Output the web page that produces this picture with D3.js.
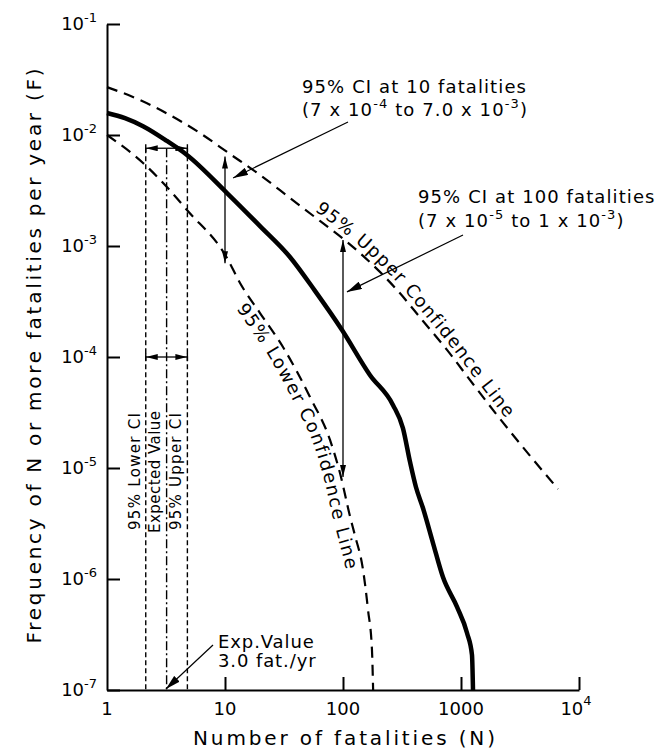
<!DOCTYPE html>
<html><head><meta charset="utf-8">
<script src="https://cdn.jsdelivr.net/npm/d3@7"></script>
<style>body{margin:0;background:#fff}svg{display:block}text{font-family:"DejaVu Sans",sans-serif;fill:#000}</style>
</head><body><svg id="c" width="671" height="750"></svg>
<script>
// ---- data ----
const expectedN = [1, 1.42, 2.02, 3.22, 4.76, 10.4, 19.8, 35.5, 57.9, 98.1, 169, 265, 322, 370, 415, 476, 579, 703, 925, 1125, 1239, 1264];
const expectedF = [1.58e-2, 1.42e-2, 1.20e-2, 8.83e-3, 6.61e-3, 3.0e-3, 1.51e-3, 7.96e-4, 3.94e-4, 1.75e-4, 6.89e-5, 3.70e-5, 2.29e-5, 1.13e-5, 6.74e-6, 4.36e-6, 2.11e-6, 1.04e-6, 5.6e-7, 3.26e-7, 2.07e-7, 1e-7];
const upperN = [1, 1.90, 3.42, 6.14, 11.0, 19.8, 35.5, 63.8, 108, 179, 287, 476, 761, 1264, 2019, 3623, 6637];
const upperF = [2.70e-2, 2.07e-2, 1.51e-2, 1.04e-2, 6.75e-3, 4.37e-3, 2.71e-3, 1.68e-3, 1.09e-3, 6.75e-4, 4.02e-4, 2.11e-4, 1.16e-4, 5.71e-5, 3.0e-5, 1.39e-5, 6.47e-6];
const lowerN = [1, 2.02, 3.22, 4.76, 10.4, 13.4, 19.8, 31.0, 52.5, 77.6, 94.3, 115, 126, 148, 163, 176, 180];
const lowerF = [1.0e-2, 5.6e-3, 3.4e-3, 2.11e-3, 7.8e-4, 4.64e-4, 2.49e-4, 1.23e-4, 4.36e-5, 1.79e-5, 9.0e-6, 3.62e-6, 2.49e-6, 1.2e-6, 5.26e-7, 2.29e-7, 1e-7];
const ciN = [2.13, 3.2, 4.8];          // 95% lower CI, expected value, 95% upper CI (fatalities/yr)
const ciBarF = [7.6e-3, 1e-4];         // levels of the horizontal CI bars
const ci10 = {n: 10, lo: 7e-4, hi: 6.4e-3};
const ci100 = {n: 100, lo: 8.3e-6, hi: 1.13e-3};
const xTicks = [1, 10, 100, 1000, 1e4];
const xTickBase = ["1", "10", "100", "1000", "10"];
const xTickSup = ["", "", "", "", "4"];
const yTicks = [1e-7, 1e-6, 1e-5, 1e-4, 1e-3, 1e-2, 1e-1];
const yTickExp = ["-7", "-6", "-5", "-4", "-3", "-2", "-1"];

// ---- chart ----
const svg = d3.select("#c");
const x = d3.scaleLog().domain([1, 1e4]).range([107, 579]);
const y = d3.scaleLog().domain([1e-7, 1e-1]).range([690, 24]);

const defs = svg.append("defs");
function marker(id, len, wid) {
  defs.append("marker").attr("id", id).attr("viewBox", `0 0 ${len} ${wid}`)
    .attr("refX", len).attr("refY", wid / 2).attr("markerWidth", len).attr("markerHeight", wid)
    .attr("markerUnits", "userSpaceOnUse").attr("orient", "auto-start-reverse")
    .append("path").attr("d", `M0,0L${len},${wid / 2}L0,${wid}z`).attr("fill", "#000");
}
marker("ah", 12, 6);
marker("ah2", 15, 8);

// axes
const yAxis = d3.axisLeft(y).tickValues(yTicks).tickSize(-13).tickSizeOuter(0).tickFormat("");
const xAxis = d3.axisBottom(x).tickValues(xTicks.slice(1)).tickSize(-13).tickSizeOuter(0).tickFormat("");
const gy = svg.append("g").attr("transform", "translate(107,0)").call(yAxis);
const gx = svg.append("g").attr("transform", "translate(0,690)").call(xAxis);
[gy, gx].forEach(g => { g.selectAll("path,line").attr("stroke", "#000").attr("stroke-width", 2); });

// y tick labels
yTicks.forEach((v, i) => {
  const t = svg.append("text").attr("x", 97).attr("y", y(v) + 6).attr("text-anchor", "end").attr("font-size", 18);
  t.append("tspan").text("10");
  t.append("tspan").attr("font-size", 13).attr("dy", -8).text(yTickExp[i]);
});
// x tick labels
xTicks.forEach((v, i) => {
  const t = svg.append("text").attr("x", x(v) + (xTickSup[i] ? -3 : 0)).attr("y", 715)
    .attr("text-anchor", "middle").attr("font-size", 18);
  t.append("tspan").text(xTickBase[i]);
  if (xTickSup[i]) t.append("tspan").attr("font-size", 13).attr("dy", -10).text(xTickSup[i]);
});

// axis titles
svg.append("text").attr("x", 344).attr("y", 745).attr("text-anchor", "middle").attr("font-size", 20)
  .attr("textLength", 302).attr("lengthAdjust", "spacing").text("Number of fatalities (N)");
svg.append("text").attr("transform", "translate(41,356) rotate(-90)").attr("text-anchor", "middle").attr("font-size", 20)
  .attr("textLength", 575).attr("lengthAdjust", "spacing").text("Frequency of N or more fatalities per year (F)");

// curves
const line = d3.line().x(d => x(d[0])).y(d => y(d[1])).curve(d3.curveMonotoneX);
const expData = expectedN.map((n, i) => [n, expectedF[i]]);
const upData = upperN.map((n, i) => [n, upperF[i]]);
const loData = lowerN.map((n, i) => [n, lowerF[i]]);

// CI verticals
const ciStyles = ["5,3", "9,3,2,3", "5,3"];
ciN.forEach((n, i) => {
  svg.append("line").attr("x1", x(n)).attr("x2", x(n)).attr("y1", y(ciBarF[0])).attr("y2", y(1e-7))
    .attr("stroke", "#000").attr("stroke-width", 1.4).attr("stroke-dasharray", ciStyles[i]);
});
ciBarF.forEach(f => {
  const yy = y(f);
  svg.append("line").attr("x1", x(ciN[1])).attr("x2", x(ciN[0])).attr("y1", yy).attr("y2", yy)
    .attr("stroke", "#000").attr("stroke-width", 1.3).attr("marker-end", "url(#ah)");
  svg.append("line").attr("x1", x(ciN[1])).attr("x2", x(ciN[2])).attr("y1", yy).attr("y2", yy)
    .attr("stroke", "#000").attr("stroke-width", 1.3).attr("marker-end", "url(#ah)");
  [ciN[0], ciN[2]].forEach(n => svg.append("line").attr("x1", x(n)).attr("x2", x(n)).attr("y1", yy - 4).attr("y2", yy + 4)
    .attr("stroke", "#000").attr("stroke-width", 1.4));
});
// rotated CI labels
const ciLabels = [["95% Lower CI", 140, 530, 117], ["Expected Value", 160, 533, 122], ["95% Upper CI", 181, 530, 117]];
ciLabels.forEach(([s, bx, by, len]) => {
  svg.append("text").attr("transform", `translate(${bx},${by}) rotate(-90)`).attr("font-size", 15)
    .attr("textLength", len).attr("lengthAdjust", "spacing").text(s);
});

svg.append("path").attr("d", line(upData)).attr("fill", "none").attr("stroke", "#000").attr("stroke-width", 2.2).attr("stroke-dasharray", "11,7");
svg.append("path").attr("d", line(loData)).attr("fill", "none").attr("stroke", "#000").attr("stroke-width", 2.2).attr("stroke-dasharray", "11,7");
svg.append("path").attr("d", line(expData)).attr("fill", "none").attr("stroke", "#000").attr("stroke-width", 4.5);

// CI arrows at 10 and 100 fatalities
[ci10, ci100].forEach(c => {
  svg.append("line").attr("x1", x(c.n)).attr("x2", x(c.n)).attr("y1", y(c.hi)).attr("y2", y(c.lo))
    .attr("stroke", "#000").attr("stroke-width", 1.3).attr("marker-start", "url(#ah)").attr("marker-end", "url(#ah)");
});

// leader arrows
function leader(x1, y1, x2, y2) {
  svg.append("line").attr("x1", x1).attr("y1", y1).attr("x2", x2).attr("y2", y2)
    .attr("stroke", "#000").attr("stroke-width", 1.2).attr("marker-end", "url(#ah2)");
}
leader(348, 122, x(11.7), y(4.1e-3));
leader(463, 235, x(108), y(3.86e-4));
leader(213, 645, x(3.16), y(1.02e-7));

// annotation texts
function annot(px, py, parts) {
  const t = svg.append("text").attr("x", px).attr("y", py).attr("font-size", 18).attr("letter-spacing", 1.1);
  let pending = 0;
  parts.forEach(p => {
    if (typeof p === "string") { t.append("tspan").attr("dy", pending).text(p); pending = 0; }
    else { t.append("tspan").attr("font-size", 13).attr("dy", -8).text(p.sup); pending = 8; }
  });
}
annot(302, 93, ["95% CI at 10 fatalities"]);
annot(302, 116, ["(7 x 10", {sup: "-4"}, " to 7.0 x 10", {sup: "-3"}, ")"]);
annot(418, 203, ["95% CI at 100 fatalities"]);
annot(418, 227, ["(7 x 10", {sup: "-5"}, " to 1 x 10", {sup: "-3"}, ")"]);
svg.append("text").attr("x", 218).attr("y", 648).attr("font-size", 18).attr("letter-spacing", 0.9).text("Exp.Value");
svg.append("text").attr("x", 218).attr("y", 667).attr("font-size", 18).attr("letter-spacing", 0.9).text("3.0 fat./yr");

// labels along the confidence lines
function pathLabel(data, text, startX, offset, ls, id) {
  const tmp = svg.append("path").attr("d", line(data)).attr("fill", "none");
  const node = tmp.node(), L = node.getTotalLength();
  const pts = [];
  for (let s = 0; s <= L; s += 2) {
    const a = node.getPointAtLength(Math.max(0, s - 1)), b = node.getPointAtLength(Math.min(L, s + 1));
    const p = node.getPointAtLength(s);
    if (p.x < startX) continue;
    let dx = b.x - a.x, dy = b.y - a.y; const m = Math.hypot(dx, dy) || 1; dx /= m; dy /= m;
    pts.push([p.x + offset * dy, p.y - offset * dx]);
  }
  tmp.remove();
  defs.append("path").attr("id", id).attr("d", d3.line().curve(d3.curveBasis)(pts));
  svg.append("text").attr("font-size", 18).attr("letter-spacing", ls)
    .append("textPath").attr("href", "#" + id).text(text);
}
pathLabel(upData, "95% Upper Confidence Line", 310, 5, 1.4, "upl");
pathLabel(loData, "95% Lower Confidence Line", 250, -17, 1.5, "lol");
</script></body></html>
